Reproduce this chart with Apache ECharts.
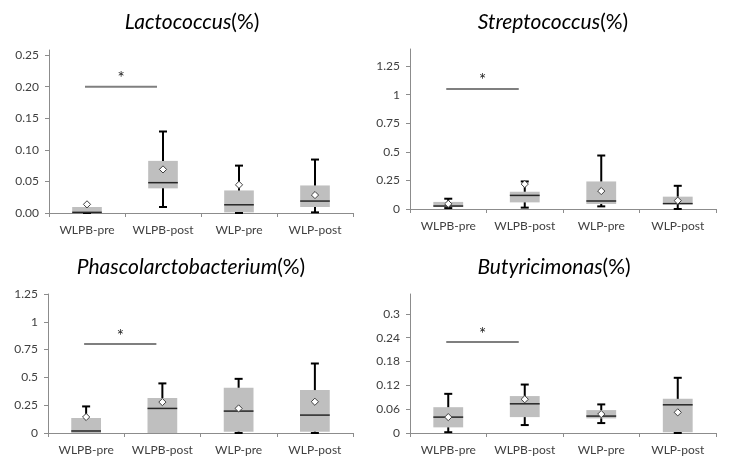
<!DOCTYPE html>
<html>
<head>
<meta charset="utf-8">
<script src="https://cdn.jsdelivr.net/npm/echarts@6/dist/echarts.min.js"></script>
<style>
  html, body { margin: 0; padding: 0; background: #fff; }
  #chart { width: 732px; height: 462px; }
</style>
</head>
<body>
<div id="chart"></div>
<script>
  var categories = ['WLPB-pre', 'WLPB-post', 'WLP-pre', 'WLP-post'];

  // each row: [min, q1, median, q3, max, mean]
  var lactococcus = [
    [0, 0.001, 0.001, 0.0095, 0.0095, 0.0137],
    [0.0095, 0.039, 0.048, 0.0825, 0.129, 0.069],
    [0, 0.001, 0.013, 0.0357, 0.075, 0.0446],
    [0.001, 0.0095, 0.0189, 0.0436, 0.0846, 0.0284]
  ];
  var streptococcus = [
    [0.008, 0.02, 0.026, 0.062, 0.09, 0.045],
    [0.012, 0.058, 0.119, 0.151, 0.241, 0.218],
    [0.023, 0.044, 0.07, 0.241, 0.468, 0.157],
    [0, 0.044, 0.047, 0.108, 0.203, 0.073]
  ];
  var phascolarcto = [
    [0, 0, 0.018, 0.135, 0.239, 0.144],
    [0, 0, 0.221, 0.314, 0.446, 0.278],
    [0, 0.012, 0.197, 0.407, 0.487, 0.221],
    [0, 0.012, 0.161, 0.386, 0.625, 0.281]
  ];
  var butyricimonas = [
    [0.002, 0.0142, 0.040, 0.065, 0.0986, 0.040],
    [0.020, 0.040, 0.0735, 0.093, 0.122, 0.085],
    [0.025, 0.0368, 0.0426, 0.0577, 0.072, 0.0476],
    [0, 0.002, 0.071, 0.086, 0.139, 0.052]
  ];

  // significance bar between WLPB-pre and WLPB-post
  var sigLevels = [0.20, 1.05, 0.80, 0.229];

  var ticks1 = [0, 0.05, 0.10, 0.15, 0.20, 0.25];
  var ticks2 = [0, 0.25, 0.5, 0.75, 1, 1.25];
  var ticks3 = [0, 0.25, 0.5, 0.75, 1, 1.25];
  var ticks4 = [0, 0.06, 0.12, 0.18, 0.24, 0.3];

  var panels = [
    { name: 'Lactococcus', data: lactococcus, ticks: ticks1, max: 0.258, digits: 2,
      grid: { left: 49, top: 50, width: 304, height: 163 }, titleX: 187, titleY: 7 },
    { name: 'Streptococcus', data: streptococcus, ticks: ticks2, max: 1.4, digits: -1,
      grid: { left: 410, top: 49, width: 306, height: 160 }, titleX: 548, titleY: 7 },
    { name: 'Phascolarctobacterium', data: phascolarcto, ticks: ticks3, max: 1.25, digits: -1,
      grid: { left: 48, top: 294, width: 305, height: 139 }, titleX: 186, titleY: 252 },
    { name: 'Butyricimonas', data: butyricimonas, ticks: ticks4, max: 0.35, digits: -1,
      grid: { left: 410, top: 294, width: 306, height: 139 }, titleX: 549, titleY: 252 }
  ];

  var axisColor = '#8c8c8c';
  var textColor = '#404040';
  var font = 'Lato, "Open Sans", sans-serif';

  function renderBox(params, api) {
    var x = api.value(0);
    var mn = api.value(1), q1 = api.value(2), md = api.value(3), q3 = api.value(4), mx = api.value(5), mean = api.value(6);
    var bw = api.size([1, 0])[0] * 0.39;
    var capW = 8;
    var c = function (v) { return api.coord([x, v]); };
    var pMin = c(mn), pQ1 = c(q1), pMd = c(md), pQ3 = c(q3), pMx = c(mx), pMean = c(mean);
    var cx = pMd[0];
    var children = [];
    children.push({
      type: 'rect',
      shape: { x: cx - bw / 2, y: pQ3[1], width: bw, height: pQ1[1] - pQ3[1] },
      style: { fill: '#bfbfbf' }
    });
    var whisk = { stroke: '#000', lineWidth: 2 };
    if (mx > q3) {
      children.push({ type: 'line', shape: { x1: cx, y1: pQ3[1], x2: cx, y2: pMx[1] }, style: whisk });
      children.push({ type: 'line', shape: { x1: cx - capW / 2, y1: pMx[1], x2: cx + capW / 2, y2: pMx[1] }, style: whisk });
    }
    if (mn < q1) {
      children.push({ type: 'line', shape: { x1: cx, y1: pQ1[1], x2: cx, y2: pMin[1] }, style: whisk });
      children.push({ type: 'line', shape: { x1: cx - capW / 2, y1: pMin[1], x2: cx + capW / 2, y2: pMin[1] }, style: whisk });
    }
    children.push({
      type: 'line',
      shape: { x1: cx - bw / 2, y1: pMd[1], x2: cx + bw / 2, y2: pMd[1] },
      style: { stroke: '#262626', lineWidth: 1.5 }
    });
    var d = 3.6;
    children.push({
      type: 'polygon',
      shape: { points: [[cx, pMean[1] - d], [cx + d, pMean[1]], [cx, pMean[1] + d], [cx - d, pMean[1]]] },
      style: { fill: '#fff', stroke: '#404040', lineWidth: 1 }
    });
    return { type: 'group', children: children };
  }

  function renderSig(params, api) {
    var a = api.coord([api.value(0), api.value(2)]);
    var b = api.coord([api.value(1), api.value(2)]);
    var x1 = a[0] - 2, x2 = b[0] - 6;
    return {
      type: 'group',
      children: [
        { type: 'line', shape: { x1: x1, y1: a[1], x2: x2, y2: a[1] }, style: { stroke: '#7f7f7f', lineWidth: 2 } },
        { type: 'text', style: { text: '*', x: (x1 + x2) / 2, y: a[1] - 8, align: 'center', verticalAlign: 'middle',
          fill: '#222', font: '17px ' + font } }
      ]
    };
  }

  var option = { animation: false, title: [], grid: [], xAxis: [], yAxis: [], series: [] };

  panels.forEach(function (p, i) {
    option.title.push({
      text: '{i|' + p.name + '}{n|(%)}',
      left: p.titleX, top: p.titleY, textAlign: 'center',
      textStyle: {
        fontWeight: 'normal',
        rich: {
          i: { fontFamily: font, fontStyle: 'italic', fontWeight: 'normal', fontSize: 21, color: '#000' },
          n: { fontFamily: font, fontWeight: 'normal', fontSize: 21, color: '#000' }
        }
      }
    });
    option.grid.push(p.grid);
    option.xAxis.push({
      type: 'category', gridIndex: i, data: categories, boundaryGap: true,
      axisLine: { lineStyle: { color: axisColor, width: 1 } },
      axisTick: { show: true, length: 4, lineStyle: { color: axisColor } },
      axisLabel: { interval: 0, hideOverlap: false, color: textColor, fontSize: 12, fontFamily: font, margin: 11 },
      splitLine: { show: false }
    });
    option.yAxis.push({
      type: 'value', gridIndex: i, min: 0, max: p.max,
      axisLine: { show: true, lineStyle: { color: axisColor, width: 1 } },
      axisTick: { show: true, length: 4, customValues: p.ticks, lineStyle: { color: axisColor } },
      axisLabel: {
        customValues: p.ticks, color: textColor, fontSize: 12, fontFamily: font, margin: 10,
        formatter: function (v) { return p.digits > 0 ? v.toFixed(p.digits) : String(+v.toFixed(4)); }
      },
      splitLine: { show: false }
    });
    option.series.push({
      type: 'custom', xAxisIndex: i, yAxisIndex: i,
      renderItem: renderBox,
      dimensions: ['x', 'min', 'q1', 'median', 'q3', 'max', 'mean'],
      encode: { x: 0, y: [1, 2, 3, 4, 5, 6] },
      data: p.data.map(function (r, k) { return [k].concat(r); }),
      silent: true, clip: false
    });
    option.series.push({
      type: 'custom', xAxisIndex: i, yAxisIndex: i,
      renderItem: renderSig,
      encode: { x: [0, 1], y: 2 },
      data: [[0, 1, sigLevels[i]]],
      silent: true, clip: false
    });
  });

  var chart = echarts.init(document.getElementById('chart'), null, { renderer: 'canvas' });
  chart.setOption(option);
</script>
</body>
</html>
